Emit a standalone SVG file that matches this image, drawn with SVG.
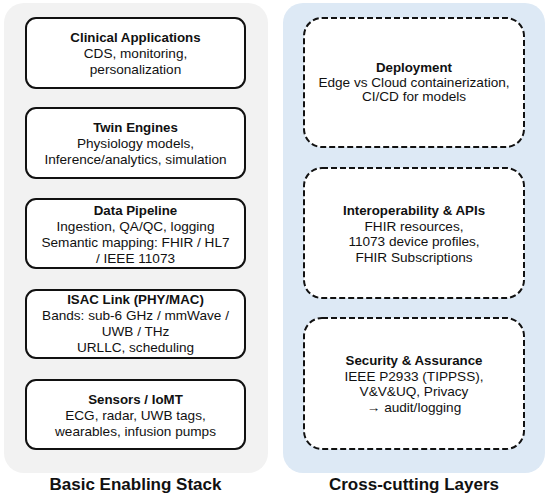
<svg xmlns="http://www.w3.org/2000/svg" width="550" height="499" viewBox="0 0 550 499">
<style>
.panelL{fill:#f2f2f2;stroke:none}
.panelR{fill:#dde9f5;stroke:none}
.box{fill:#ffffff;stroke:#111111;stroke-width:2}
.dbox{fill:#ffffff;stroke:#111111;stroke-width:2;stroke-dasharray:6 3}
text{font-family:"Liberation Sans",Arial,sans-serif;font-size:13.6px;fill:#111111;text-anchor:middle}
.t{font-weight:bold;font-size:13.3px}
.h{font-weight:bold;font-size:17px}
</style>
<rect x="0" y="0" width="550" height="499" fill="#ffffff"/>
<g id="panel-left">
<rect class="panelL" x="4" y="3" width="264" height="470" rx="20"/>
<text class="h" x="135.5" y="490">Basic Enabling Stack</text>
</g>
<g id="panel-right">
<rect class="panelR" x="283" y="3" width="262" height="470" rx="20"/>
<text class="h" x="414" y="490">Cross-cutting Layers</text>
</g>
<g id="connectors"></g>
<g id="clinical">
<rect class="box" x="26" y="18" width="219" height="70" rx="10"/>
<text class="t" x="135.5" y="42">Clinical Applications</text>
<text x="135.5" y="58">CDS, monitoring,</text>
<text x="135.5" y="73.5">personalization</text>
</g>
<g id="twin">
<rect class="box" x="26" y="108" width="219" height="70" rx="10"/>
<text class="t" x="135.5" y="132">Twin Engines</text>
<text x="135.5" y="148">Physiology models,</text>
<text x="135.5" y="163.5">Inference/analytics, simulation</text>
</g>
<g id="pipeline">
<rect class="box" x="26" y="199" width="219" height="69" rx="10"/>
<text class="t" x="135.5" y="215">Data Pipeline</text>
<text x="135.5" y="231">Ingestion, QA/QC, logging</text>
<text x="135.5" y="246.5">Semantic mapping: FHIR / HL7</text>
<text x="135.5" y="262.5">/ IEEE 11073</text>
</g>
<g id="isac">
<rect class="box" x="26" y="290" width="219" height="68" rx="10"/>
<text class="t" x="135.5" y="304">ISAC Link (PHY/MAC)</text>
<text x="135.5" y="320">Bands: sub-6 GHz / mmWave /</text>
<text x="135.5" y="335.5">UWB / THz</text>
<text x="135.5" y="351.5">URLLC, scheduling</text>
</g>
<g id="sensors">
<rect class="box" x="26" y="380" width="219" height="69" rx="10"/>
<text class="t" x="135.5" y="404">Sensors / IoMT</text>
<text x="135.5" y="420">ECG, radar, UWB tags,</text>
<text x="135.5" y="435.5">wearables, infusion pumps</text>
</g>
<g id="deployment">
<rect class="dbox" x="304" y="18" width="220" height="129" rx="18"/>
<text class="t" x="414" y="71.5">Deployment</text>
<text x="414" y="86.5">Edge vs Cloud containerization,</text>
<text x="414" y="101">CI/CD for models</text>
</g>
<g id="interop">
<rect class="dbox" x="304" y="168" width="220" height="130" rx="18"/>
<text class="t" x="414" y="215">Interoperability &amp; APIs</text>
<text x="414" y="230.5">FHIR resources,</text>
<text x="414" y="246">11073 device profiles,</text>
<text x="414" y="261.5">FHIR Subscriptions</text>
</g>
<g id="security">
<rect class="dbox" x="304" y="318" width="220" height="131" rx="18"/>
<text class="t" x="414" y="365">Security &amp; Assurance</text>
<text x="414" y="380.5">IEEE P2933 (TIPPSS),</text>
<text x="414" y="396">V&amp;V&amp;UQ, Privacy</text>
<text x="414" y="411.5">→ audit/logging</text>
</g>
</svg>
